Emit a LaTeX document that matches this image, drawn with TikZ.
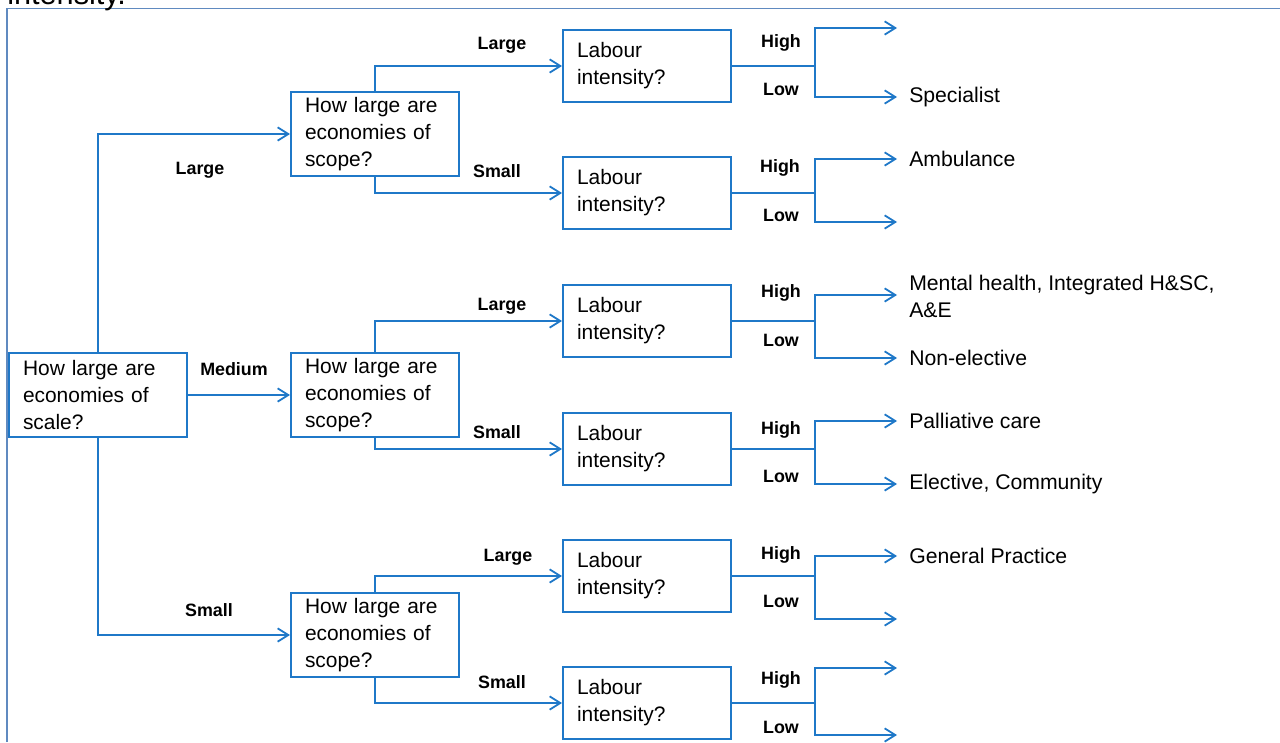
\documentclass[tikz,border=0pt]{standalone}
\usepackage{fontspec}
\setmainfont{Liberation Sans}
\usetikzlibrary{arrows.meta}
\definecolor{bleu}{RGB}{31,120,200}
\definecolor{cadre}{RGB}{96,138,192}
\begin{document}
\begin{tikzpicture}[x=0.75pt,y=-0.75pt]
% Styles
\tikzstyle{fleche}=[-{Straight Barb[length=8pt,width=10pt]},draw=bleu,line width=1.35pt]
\tikzstyle{boite}=[draw=bleu,line width=1.5pt,anchor=north west,inner xsep=10.5pt,inner ysep=0pt,align=left,font=\fontsize{15.7pt}{20.25pt}\selectfont]
\tikzstyle{question}=[boite,text width=105pt,minimum height=63pt]
\tikzstyle{intensite}=[boite,text width=105pt,minimum height=54pt]
\tikzstyle{feuille}=[anchor=west,inner xsep=9pt,inner ysep=0pt,align=left,font=\fontsize{15.9pt}{20.25pt}\selectfont]
\tikzstyle{etiquette}=[inner sep=0pt,font=\bfseries\fontsize{13.4pt}{15pt}\selectfont]
% Cadre
\useasboundingbox (0,0) rectangle (1280,742);
\clip (0,0) rectangle (1280,742);
\draw[cadre,line width=1.2pt] (7,742) -- (7,8.5) -- (1280,8.5);
\node[anchor=base west,inner sep=0pt,font=\fontsize{23pt}{27pt}\selectfont] (T) at (7,4.5) {intensity.};
% Noeuds
\node[boite,text width=112.5pt,minimum height=63pt] (E) at (8,352) {How large are\\economies of\\scale?};
\node[question] (Pa) at (290,91) {How large are\\economies of\\scope?};
\node[question] (Pb) at (290,352) {How large are\\economies of\\scope?};
\node[question] (Pc) at (290,592) {How large are\\economies of\\scope?};
\node[intensite] (Ia) at (562,29) {Labour\\intensity?};
\node[intensite] (Ib) at (562,156) {Labour\\intensity?};
\node[intensite] (Ic) at (562,284) {Labour\\intensity?};
\node[intensite] (Id) at (562,412) {Labour\\intensity?};
\node[intensite] (Ie) at (562,539) {Labour\\intensity?};
\node[intensite] (If) at (562,666) {Labour\\intensity?};
% Extremites
\coordinate (Iah) at (897,28);
\coordinate (Ial) at (897,97);
\coordinate (Ibh) at (897,159);
\coordinate (Ibl) at (897,222);
\coordinate (Ich) at (897,295);
\coordinate (Icl) at (897,358);
\coordinate (Idh) at (897,421);
\coordinate (Idl) at (897,484);
\coordinate (Ieh) at (897,556);
\coordinate (Iel) at (897,619);
\coordinate (Ifh) at (897,668);
\coordinate (Ifl) at (897,735);
% Feuilles
\node[feuille] (Fa) at (Ial) {Specialist};
\node[feuille] (Fb) at (Ibh) {Ambulance};
\node[feuille] (Fc) at (897,296) {Mental health, Integrated H\&SC,\\A\&E};
\node[feuille] (Fd) at (Icl) {Non-elective};
\node[feuille] (Fe) at (Idh) {Palliative care};
\node[feuille] (Ff) at (Idl) {Elective, Community};
\node[feuille] (Fg) at (Ieh) {General Practice};
% Arcs
\draw[fleche] (E.north) |- (Pa.west);
\draw[fleche] (E.east) -- (Pb.west);
\draw[fleche] (E.south) |- (Pc.west);
\draw[fleche] (Pa.north) |- (Ia.west);
\draw[fleche] (Pa.south) |- (Ib.west);
\draw[fleche] (Pb.north) |- (Ic.west);
\draw[fleche] (Pb.south) |- (Id.west);
\draw[fleche] (Pc.north) |- (Ie.west);
\draw[fleche] (Pc.south) |- (If.west);
\draw[fleche] (Ia.east) -- ++(83,0) |- (Iah);
\draw[fleche] (Ia.east) -- ++(83,0) |- (Ial);
\draw[fleche] (Ib.east) -- ++(83,0) |- (Ibh);
\draw[fleche] (Ib.east) -- ++(83,0) |- (Ibl);
\draw[fleche] (Ic.east) -- ++(83,0) |- (Ich);
\draw[fleche] (Ic.east) -- ++(83,0) |- (Icl);
\draw[fleche] (Id.east) -- ++(83,0) |- (Idh);
\draw[fleche] (Id.east) -- ++(83,0) |- (Idl);
\draw[fleche] (Ie.east) -- ++(83,0) |- (Ieh);
\draw[fleche] (Ie.east) -- ++(83,0) |- (Iel);
\draw[fleche] (If.east) -- ++(83,0) |- (Ifh);
\draw[fleche] (If.east) -- ++(83,0) |- (Ifl);
% Etiquettes
\node[etiquette] (La) at (200,170) {Large};
\node[etiquette] (Lb) at (234,369) {Medium};
\node[etiquette] (Lc) at (209,610) {Small};
\node[etiquette] (Ma) at (502,45) {Large};
\node[etiquette] (Mb) at (497,171) {Small};
\node[etiquette] (Mc) at (502,306) {Large};
\node[etiquette] (Md) at (497,432) {Small};
\node[etiquette] (Me) at (508,557) {Large};
\node[etiquette] (Mf) at (502,682) {Small};
\node[etiquette] (Ha) at (781,43) {High};
\node[etiquette] (Ba) at (781,89) {Low};
\node[etiquette] (Hb) at (780,168) {High};
\node[etiquette] (Bb) at (781,215) {Low};
\node[etiquette] (Hc) at (781,293) {High};
\node[etiquette] (Bc) at (781,340) {Low};
\node[etiquette] (Hd) at (781,430) {High};
\node[etiquette] (Bd) at (781,476) {Low};
\node[etiquette] (He) at (781,555) {High};
\node[etiquette] (Be) at (781,601) {Low};
\node[etiquette] (Hf) at (781,680) {High};
\node[etiquette] (Bf) at (781,727) {Low};
\end{tikzpicture}
\end{document}
